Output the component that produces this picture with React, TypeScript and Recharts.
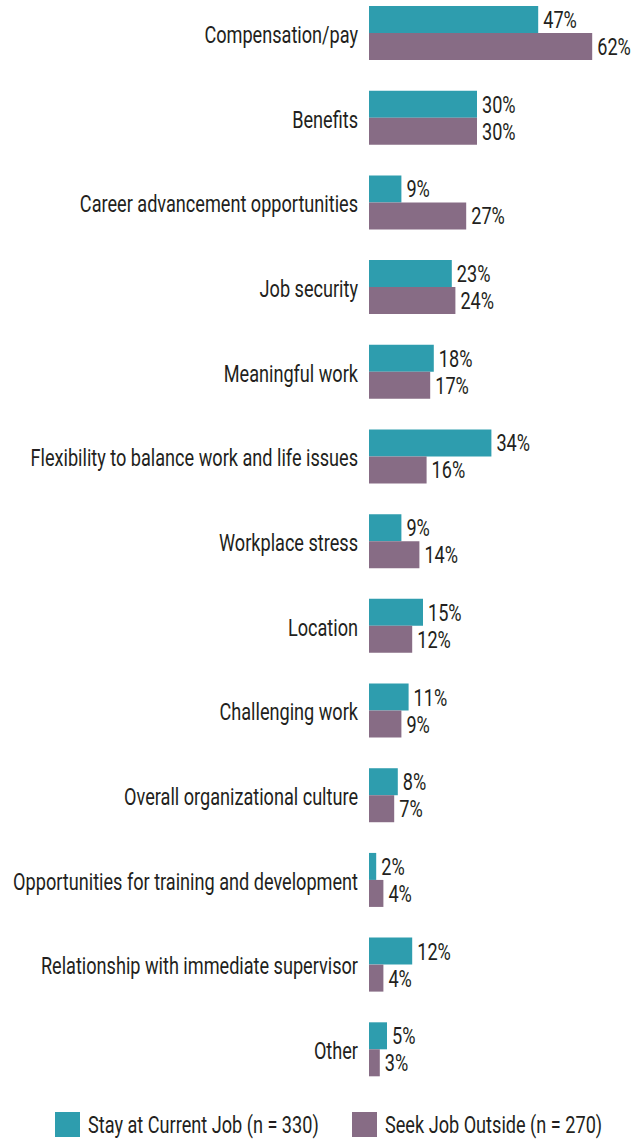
import React from "react";
import { Bar, BarChart, XAxis, YAxis, LabelList } from "recharts";

const categories = [
  "Compensation/pay",
  "Benefits",
  "Career advancement opportunities",
  "Job security",
  "Meaningful work",
  "Flexibility to balance work and life issues",
  "Workplace stress",
  "Location",
  "Challenging work",
  "Overall organizational culture",
  "Opportunities for training and development",
  "Relationship with immediate supervisor",
  "Other",
];
const stayValues = [47, 30, 9, 23, 18, 34, 9, 15, 11, 8, 2, 12, 5];
const seekValues = [62, 30, 27, 24, 17, 16, 14, 12, 9, 7, 4, 4, 3];
const seriesNames = ["Stay at Current Job (n = 330)", "Seek Job Outside (n = 270)"];

const TEAL = "#2E9DAE";
const MAUVE = "#876C85";
const INK = "#231F20";
const FONT = "Roboto, sans-serif";
const FS = 24;
const SQUEEZE = 0.755; // fake a condensed face

const chartData = categories.map((name, i) => ({
  name,
  stay: stayValues[i],
  seek: seekValues[i],
}));

const CategoryTick = (props: any) => {
  const { x, y, payload } = props;
  return (
    <text
      transform={`translate(${x - 3},${y + 1}) scale(${SQUEEZE},1)`}
      textAnchor="end"
      dominantBaseline="central"
      fill={INK}
      fontSize={FS}
      fontFamily={FONT}
    >
      {payload.value}
    </text>
  );
};

const ValueLabel = (props: any) => {
  const { x, y, width, height, value } = props;
  return (
    <text
      transform={`translate(${x + width + 5},${y + height / 2}) scale(${SQUEEZE},1)`}
      textAnchor="start"
      dominantBaseline="central"
      fill={INK}
      fontSize={FS}
      fontFamily={FONT}
    >
      {`${value}%`}
    </text>
  );
};

const legendText: React.CSSProperties = {
  position: "absolute",
  top: -1,
  lineHeight: "28px",
  whiteSpace: "nowrap",
  transform: `scaleX(${SQUEEZE})`,
  transformOrigin: "left center",
};

export default function App() {
  return (
    <div style={{ position: "absolute", left: 0, top: 0, width: 641, height: 1140, background: "#fff", overflow: "hidden" }}>
      <div style={{ position: "absolute", left: 0, top: -9 }}>
        <BarChart
          width={641}
          height={1101}
          data={chartData}
          layout="vertical"
          margin={{ top: 0, right: 20, left: 0, bottom: 0 }}
          barGap={0}
        >
          <XAxis type="number" domain={[0, 70]} hide />
          <YAxis
            type="category"
            dataKey="name"
            width={369}
            axisLine={false}
            tickLine={false}
            tick={<CategoryTick />}
            interval={0}
          />
          <Bar dataKey="stay" fill={TEAL} barSize={27} isAnimationActive={false}>
            <LabelList dataKey="stay" content={<ValueLabel />} />
          </Bar>
          <Bar dataKey="seek" fill={MAUVE} barSize={27} isAnimationActive={false}>
            <LabelList dataKey="seek" content={<ValueLabel />} />
          </Bar>
        </BarChart>
      </div>
      <div style={{ position: "absolute", left: 0, top: 1112, width: 641, height: 28, fontFamily: FONT, fontSize: FS, color: INK }}>
        <div style={{ position: "absolute", left: 55, top: 0, width: 25, height: 25, background: TEAL }} />
        <div style={{ ...legendText, left: 88 }}>{seriesNames[0]}</div>
        <div style={{ position: "absolute", left: 352, top: 0, width: 25, height: 25, background: MAUVE }} />
        <div style={{ ...legendText, left: 385 }}>{seriesNames[1]}</div>
      </div>
    </div>
  );
}
